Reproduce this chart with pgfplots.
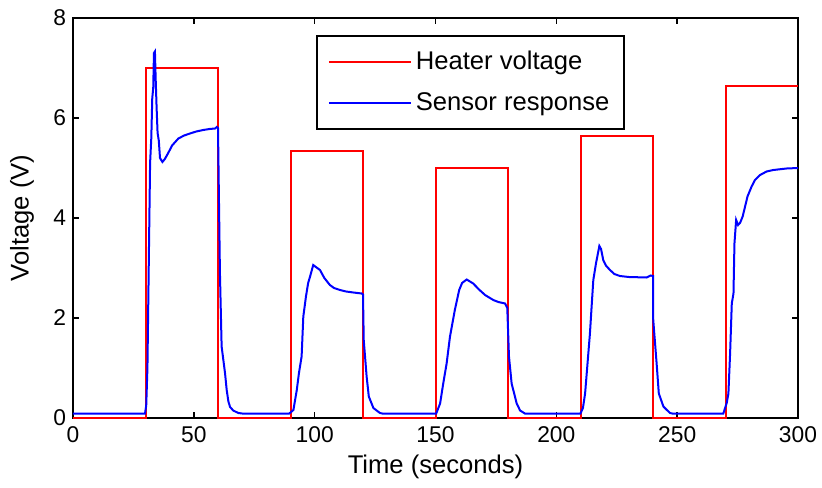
\documentclass[border=0pt]{standalone}
\usepackage{pgfplots}
\pgfplotsset{compat=1.18}
\usepackage{fontspec}
\setmainfont{Liberation Sans}
\begin{document}
\begin{tikzpicture}
\begin{axis}[
  at={(0,0)}, anchor=south west,
  scale only axis, width=362.5pt, height=200pt,
  xmin=0, xmax=300, ymin=0, ymax=8,
  xtick={0,50,...,300}, ytick={0,2,...,8},
  xtick pos=both, ytick pos=both,
  tick align=inside, major tick length=3pt,
  axis line style={line width=0.75pt},
  every tick/.style={black, line width=0.75pt},
  /pgf/number format/assume math mode=true,
  tick label style={font=\fontsize{11.4}{13}\selectfont},
  xticklabel style={yshift=-1pt},
  label style={font=\fontsize{12.8}{15}\selectfont},
  xlabel={Time (seconds)}, ylabel={Voltage (V)},
  xlabel style={at={(axis description cs:0.5,-0.1225)}, anchor=center},
  ylabel style={at={(axis description cs:-0.0703,0.5)}, anchor=center},
  legend style={at={(0.335,0.9575)}, anchor=north west, draw=black, line width=1pt,
    font=\fontsize{12.8}{15}\selectfont, inner xsep=5.5pt, inner ysep=5.7pt,
    row sep=5.8pt, nodes={inner sep=2pt}},
  legend cell align=left,
  legend image code/.code={\draw[#1, line width=1pt] (0pt,0pt) -- (41pt,0pt);},
]
\addplot[red, line width=1pt] coordinates {
(0,0)(30,0)(30,7.0)(60,7.0)(60,0)(90,0)(90,5.33)(120,5.33)(120,0)(150,0)(150,5.0)(180,5.0)(180,0)(210,0)(210,5.64)(240,5.64)(240,0)(270,0)(270,6.63)(300,6.63)
};
\addlegendentry{Heater voltage}
\addplot[blue, line width=1pt] coordinates {
(0,0.09)(29.8,0.09)(30.3,0.25)(30.8,1.0)(31.2,2.5)(31.6,4.0)(31.9,5.1)(32.4,5.6)(32.8,6.4)(33.2,6.6)(33.5,7.3)(33.9,7.33)(34.2,6.8)(34.6,6.2)(35.0,5.7)(35.5,5.55)(36,5.2)(37,5.12)(38,5.18)(39.4,5.3)(41,5.45)(43.6,5.59)(46,5.65)(48.4,5.69)(51,5.73)(53.9,5.76)(56.5,5.78)(58.8,5.79)(59.5,5.82)(60,5.8)(60.3,4.7)(60.8,2.9)(61.5,1.43)(62.9,0.9)(63.6,0.56)(64.3,0.33)(65,0.22)(66.3,0.15)(68.4,0.1)(70,0.09)
(89.5,0.09)(91.2,0.16)(92.6,0.56)(93.5,0.9)(94.6,1.23)(95.3,2.03)(96.4,2.43)(97.3,2.7)(98.1,2.83)(99.4,3.06)(100.5,3.02)(102.2,2.96)(104,2.8)(106.3,2.66)(108,2.6)(110.5,2.56)(113,2.53)(116,2.51)(119.5,2.49)(120,2.47)(120.3,1.56)(121.5,0.83)(122.4,0.43)(124.3,0.2)(127,0.1)(128,0.09)
(150.3,0.09)(151.9,0.29)(153.2,0.69)(154.6,1.09)(156,1.63)(158,2.16)(159.8,2.56)(161,2.7)(162.9,2.77)(165.6,2.69)(168,2.57)(170.5,2.46)(173.9,2.36)(176,2.32)(178.8,2.29)(179.7,2.2)(180.4,1.23)(181.5,0.69)(183.6,0.29)(185,0.15)(187,0.09)
(210,0.09)(211,0.2)(211.9,0.49)(212.8,1.03)(213.9,1.69)(214.6,2.23)(215.3,2.76)(216.4,3.09)(217.8,3.44)(218.5,3.38)(219.4,3.16)(220.5,3.05)(222.2,2.96)(224,2.88)(226.3,2.84)(230,2.82)(237.4,2.81)(239,2.85)(240,2.84)(240.1,1.96)(241.5,1.09)(242.4,0.49)(244.3,0.23)(247,0.1)(248,0.09)
(269.1,0.09)(270.5,0.3)(271.2,0.49)(271.9,1.29)(272.6,2.29)(273.3,2.49)(273.7,3.49)(274.4,3.96)(275.2,3.86)(276,3.9)(277.1,4.03)(278.1,4.23)(279.1,4.43)(280.8,4.63)(282.2,4.76)(284.3,4.86)(287,4.93)(289.8,4.96)(295.3,4.99)(300,5.0)
};
\addlegendentry{Sensor response}
\end{axis}
\pgfresetboundingbox
\useasboundingbox (-36.5pt,-34.5pt) rectangle (374.5pt,209pt);
\end{tikzpicture}
\end{document}
